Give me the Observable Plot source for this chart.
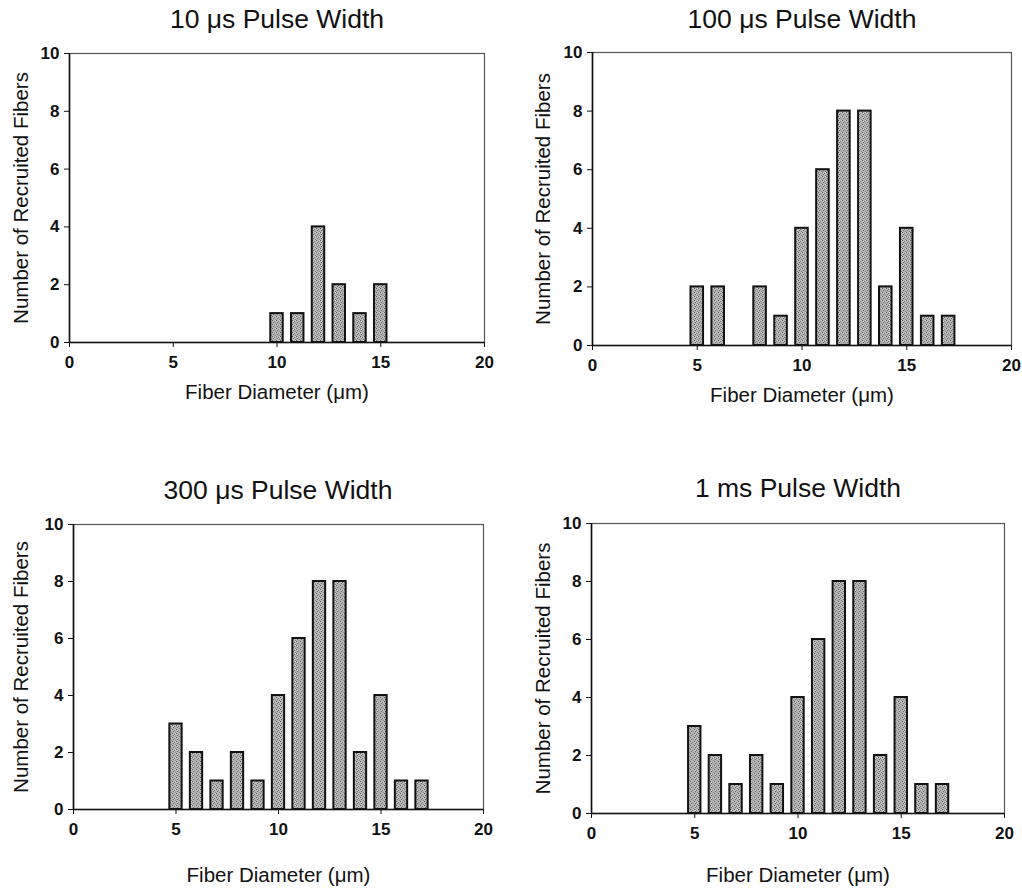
<!DOCTYPE html>
<html>
<head>
<meta charset="utf-8">
<script src="https://cdn.jsdelivr.net/npm/d3@7"></script>
<script src="https://cdn.jsdelivr.net/npm/@observablehq/plot@0.6"></script>
<style>
  html, body { margin: 0; padding: 0; background: #fff; }
  #root { position: relative; width: 1022px; height: 889px; background: #fff; overflow: hidden;
          font-family: "Liberation Sans", Arial, sans-serif; }
  .panel { position: absolute; }
  .title { position: absolute; width: 400px; text-align: center; font-size: 26.5px; color: #111;
           line-height: 30px; white-space: nowrap; }
</style>
</head>
<body>
<svg width="0" height="0" style="position:absolute">
  <defs>
    <pattern id="stip" width="4" height="4" patternUnits="userSpaceOnUse">
      <rect width="4" height="4" fill="#b4b4b4"/>
      <rect x="0" y="0" width="1" height="1" fill="#5e5e5e"/>
      <rect x="2" y="1" width="1" height="1" fill="#7a7a7a"/>
      <rect x="1" y="2" width="1" height="1" fill="#6a6a6a"/>
      <rect x="3" y="3" width="1" height="1" fill="#828282"/>
      <rect x="3" y="0" width="1" height="1" fill="#d0d0d0"/>
      <rect x="1" y="1" width="1" height="1" fill="#cccccc"/>
    </pattern>
  </defs>
</svg>
<div id="root"></div>
<script>
// ---- Data ----
const titles = ["10 \u03bcs Pulse Width", "100 \u03bcs Pulse Width", "300 \u03bcs Pulse Width", "1 ms Pulse Width"];
const xLabel = "Fiber Diameter (\u03bcm)";
const yLabel = "Number of Recruited Fibers";
const xTicks = [0, 5, 10, 15, 20];
const yTicks = [0, 2, 4, 6, 8, 10];

const diam10us = [10, 11, 12, 13, 14, 15];
const count10us = [1, 1, 4, 2, 1, 2];

const diam100us = [5, 6, 8, 9, 10, 11, 12, 13, 14, 15, 16, 17];
const count100us = [2, 2, 2, 1, 4, 6, 8, 8, 2, 4, 1, 1];

const diam300us = [5, 6, 7, 8, 9, 10, 11, 12, 13, 14, 15, 16, 17];
const count300us = [3, 2, 1, 2, 1, 4, 6, 8, 8, 2, 4, 1, 1];

const diam1ms = [5, 6, 7, 8, 9, 10, 11, 12, 13, 14, 15, 16, 17];
const count1ms = [3, 2, 1, 2, 1, 4, 6, 8, 8, 2, 4, 1, 1];

const barHalf = 0.3;

// ---- Layout ----
const panels = [
  {title: titles[0], xs: diam10us, ys: count10us,
   box: {left: 0, top: 40, width: 510, height: 380}, m: {l: 69, r: 26, t: 13, b: 78},
   titlePos: {cx: 277, cy: 19}, xlabDy: 50, ylabDx: -48},
  {title: titles[1], xs: diam100us, ys: count100us,
   box: {left: 510, top: 40, width: 512, height: 380}, m: {l: 82, r: 11, t: 12, b: 75},
   titlePos: {cx: 802, cy: 19}, xlabDy: 50, ylabDx: -49},
  {title: titles[2], xs: diam300us, ys: count300us,
   box: {left: 0, top: 505, width: 510, height: 384}, m: {l: 73, r: 27, t: 19, b: 80},
   titlePos: {cx: 278, cy: 490}, xlabDy: 66, ylabDx: -52},
  {title: titles[3], xs: diam1ms, ys: count1ms,
   box: {left: 510, top: 505, width: 512, height: 384}, m: {l: 81, r: 18, t: 18, b: 76},
   titlePos: {cx: 798, cy: 488}, xlabDy: 62, ylabDx: -48}
];

const root = document.getElementById("root");
const FONT = "'Liberation Sans', Arial, Helvetica, sans-serif";

for (const p of panels) {
  const data = p.xs.map((x, i) => ({x, y: p.ys[i]}));
  const chart = Plot.plot({
    width: p.box.width,
    height: p.box.height,
    marginLeft: p.m.l, marginRight: p.m.r, marginTop: p.m.t, marginBottom: p.m.b,
    style: {fontFamily: FONT, background: "transparent", overflow: "visible"},
    x: {domain: [0, 20], type: "linear"},
    y: {domain: [0, 10], type: "linear"},
    marks: [
      Plot.rectY(data, {x1: d => d.x - barHalf, x2: d => d.x + barHalf, y1: 0, y2: "y",
        fill: "url(#stip)", stroke: "#111", strokeWidth: 2}),
      Plot.frame({stroke: "#555", strokeWidth: 1.2}),
      Plot.ruleY([0], {stroke: "#111", strokeWidth: 1.6}),
      Plot.ruleX([0], {stroke: "#111", strokeWidth: 1.6}),
      Plot.axisY({ticks: yTicks, tickSize: 5, tickPadding: 5, fontSize: 17, fontWeight: "bold",
        label: null, stroke: "#111", fill: "#111"}),
      Plot.axisX({ticks: xTicks, tickSize: 5, tickPadding: 8, fontSize: 17, fontWeight: "bold",
        label: null, stroke: "#111", fill: "#111"}),
      Plot.text([xLabel], {frameAnchor: "bottom", dy: p.xlabDy, text: d => d, fontSize: 20.5,
        fill: "#111", lineAnchor: "middle", textAnchor: "middle"}),
      Plot.text([yLabel], {frameAnchor: "left", dx: p.ylabDx, rotate: -90, text: d => d, fontSize: 20.5,
        fill: "#111", lineAnchor: "middle", textAnchor: "middle"})
    ]
  });
  const wrap = document.createElement("div");
  wrap.className = "panel";
  wrap.style.left = p.box.left + "px";
  wrap.style.top = p.box.top + "px";
  wrap.appendChild(chart);
  root.appendChild(wrap);

  const t = document.createElement("div");
  t.className = "title";
  t.textContent = p.title;
  t.style.left = (p.titlePos.cx - 200) + "px";
  t.style.top = (p.titlePos.cy - 15) + "px";
  root.appendChild(t);
}
</script>
</body>
</html>
